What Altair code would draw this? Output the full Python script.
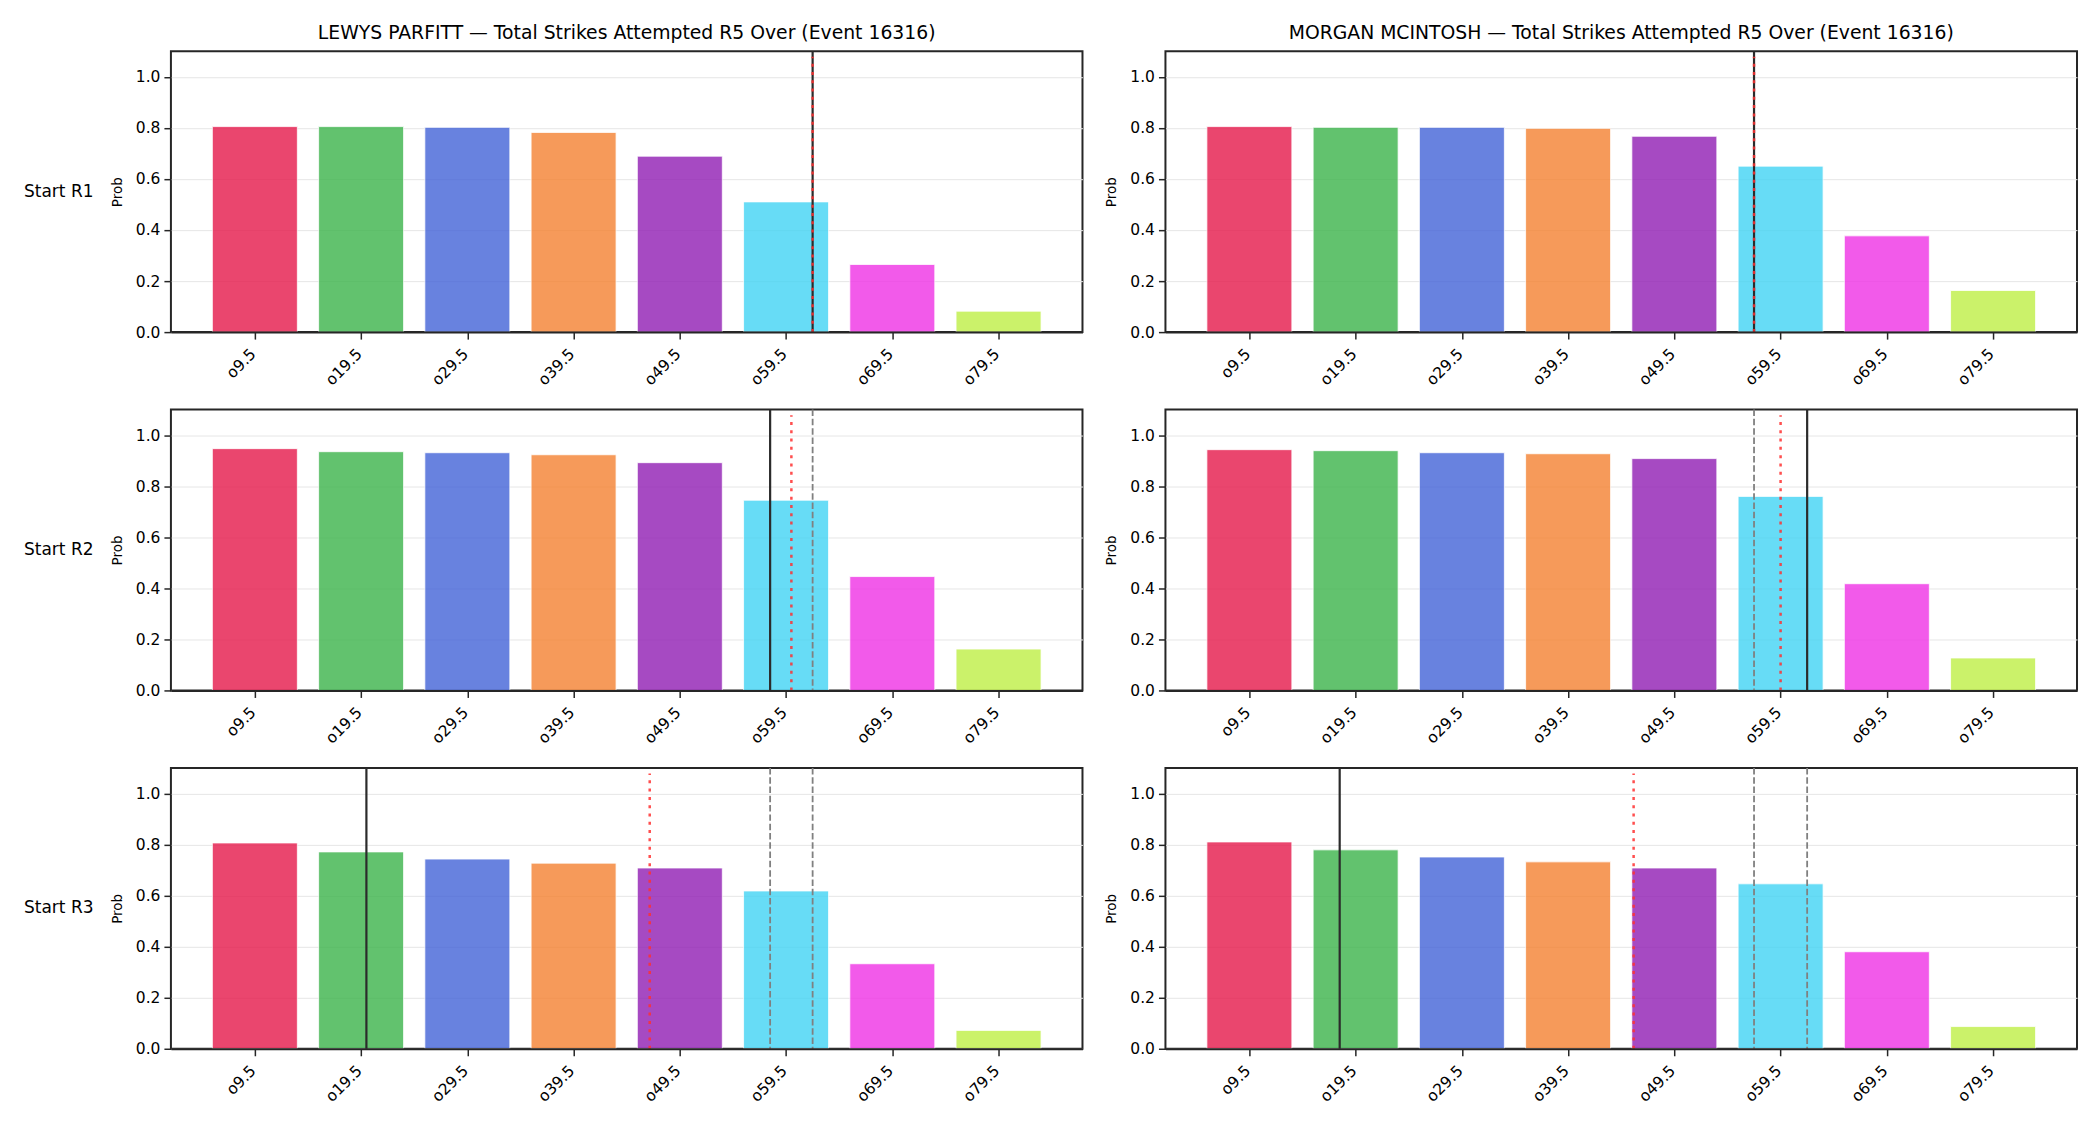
import altair as alt
import pandas as pd

# ---------------- data ----------------
LINES = [9.5, 19.5, 29.5, 39.5, 49.5, 59.5, 69.5, 79.5]
LABELS = ["o9.5", "o19.5", "o29.5", "o39.5", "o49.5", "o59.5", "o69.5", "o79.5"]
COLORS = ["#e6194b", "#3cb44b", "#4363d8", "#f58231",
          "#911eb4", "#42d4f4", "#f032e6", "#bfef45"]

FIGHTERS = ["LEWYS PARFITT", "MORGAN MCINTOSH"]
MARKET = "Total Strikes Attempted R5 Over"
EVENT_ID = 16316
ROW_LABELS = ["Start R1", "Start R2", "Start R3"]

# probability of going over each line, per starting round
LEWYS_R1 = [0.805, 0.805, 0.802, 0.782, 0.689, 0.510, 0.265, 0.082]
LEWYS_R2 = [0.947, 0.935, 0.931, 0.923, 0.892, 0.745, 0.446, 0.162]
LEWYS_R3 = [0.806, 0.771, 0.743, 0.727, 0.708, 0.618, 0.333, 0.072]
MORGAN_R1 = [0.805, 0.802, 0.802, 0.798, 0.767, 0.650, 0.377, 0.163]
MORGAN_R2 = [0.943, 0.939, 0.931, 0.927, 0.908, 0.760, 0.418, 0.127]
MORGAN_R3 = [0.810, 0.779, 0.751, 0.732, 0.708, 0.646, 0.380, 0.087]

# strikes attempted in each completed round (reference lines)
LEWYS_ROUNDS = [62, 58, 20]
MORGAN_ROUNDS = [57, 62, 18]

PROBS = [[LEWYS_R1, LEWYS_R2, LEWYS_R3], [MORGAN_R1, MORGAN_R2, MORGAN_R3]]
ROUNDS = [LEWYS_ROUNDS, MORGAN_ROUNDS]

# ---------------- style ----------------
FONT = "DejaVu Sans"
W, H = 912, 281
BAR_HALF = 4.0            # 0.8 of a category step (10 strikes)
X_DOMAIN = [LINES[0] - 7.9, LINES[-1] + 7.9]
Y_MAX = 1.1
RED_TOP = 0.98 * Y_MAX
DARK = "#262626"
TICK_FS = 15.5

label_expr = "[" + ",".join(f"'{l}'" for l in LABELS) + "][indexof([" + \
    ",".join(str(v) for v in LINES) + "], datum.value)]"

x_scale = alt.Scale(domain=X_DOMAIN, nice=False, zero=False)
y_scale = alt.Scale(domain=[0, Y_MAX], nice=False)


def panel(fi, ri):
    probs = PROBS[fi][ri]
    df = pd.DataFrame({
        "line": LINES,
        "label": LABELS,
        "prob": probs,
    })
    df["lo"] = df["line"] - BAR_HALF
    df["hi"] = df["line"] + BAR_HALF
    df["base"] = 0.0

    bars = alt.Chart(df).mark_bar(opacity=0.8, stroke="white", strokeWidth=0.8).encode(
        x=alt.X("lo:Q", scale=x_scale,
                axis=alt.Axis(values=LINES, labelExpr=label_expr, title=None,
                              labelAngle=-45, labelAlign="right", labelBaseline="top",
                              labelFontSize=TICK_FS, labelFont=FONT, labelColor="black",
                              labelPadding=7, labelOffset=-7,
                              tickSize=7, tickWidth=1.5, tickColor=DARK,
                              grid=False, domain=True, domainColor=DARK, domainWidth=2,
                              zindex=1)),
        x2="hi:Q",
        y=alt.Y("prob:Q", scale=y_scale,
                axis=alt.Axis(values=[0, 0.2, 0.4, 0.6, 0.8, 1.0], format=".1f",
                              title="Prob", titleFontSize=13.5, titleFont=FONT,
                              titleFontWeight="normal", titleColor="black", titlePadding=11,
                              labelFontSize=TICK_FS, labelFont=FONT, labelColor="black",
                              labelPadding=4, tickSize=7, tickWidth=1.5, tickColor=DARK,
                              grid=True, gridColor="#e6e6e6", gridWidth=1,
                              domain=False)),
        y2="base:Q",
        color=alt.Color("label:N", scale=alt.Scale(domain=LABELS, range=COLORS), legend=None),
    )

    rounds = ROUNDS[fi]
    layers = [bars]

    prev = rounds[:ri]
    if prev:
        gray_df = pd.DataFrame({"x": prev})
        layers.append(alt.Chart(gray_df).mark_rule(color="#808080", strokeWidth=1.8,
                                                   strokeDash=[6.5, 2.8]).encode(
            x=alt.X("x:Q", scale=x_scale)))

    black_df = pd.DataFrame({"x": [rounds[ri]]})
    layers.append(alt.Chart(black_df).mark_rule(color="#2b2b2b", strokeWidth=2.2).encode(
        x=alt.X("x:Q", scale=x_scale)))

    avg = sum(rounds[:ri + 1]) / (ri + 1)
    red_df = pd.DataFrame({"x": [avg], "y0": [0.0], "y1": [RED_TOP]})
    layers.append(alt.Chart(red_df).mark_rule(color="#ff3030", opacity=0.85, strokeWidth=2.5,
                                              strokeDash=[3, 5.3]).encode(
        x=alt.X("x:Q", scale=x_scale),
        y=alt.Y("y0:Q", scale=y_scale),
        y2="y1:Q"))

    if fi == 0:
        lab_df = pd.DataFrame({"t": [ROW_LABELS[ri]]})
        layers.append(alt.Chart(lab_df).mark_text(
            align="left", baseline="middle", fontSize=17, font=FONT, color="black"
        ).encode(text="t:N", x=alt.value(-147), y=alt.value(H / 2)))

    ch = alt.layer(*layers).properties(width=W, height=H)
    if ri == 0:
        ch = ch.properties(title=alt.TitleParams(
            f"{FIGHTERS[fi]} — {MARKET} (Event {EVENT_ID})",
            fontSize=18.8, font=FONT, fontWeight="normal", color="black",
            anchor="middle", offset=7))
    return ch


panels = [panel(fi, ri) for ri in range(3) for fi in range(2)]

chart = alt.concat(*panels, columns=2, spacing=alt.RowColnumber(row=77.5, column=83),
                   bounds="flush").properties(
    padding={"left": 23, "top": 23, "right": 22, "bottom": 5},
    background="white",
).configure_view(stroke=DARK, strokeWidth=2)

chart.save("out.html", embed_options={"renderer": "svg", "actions": False})
